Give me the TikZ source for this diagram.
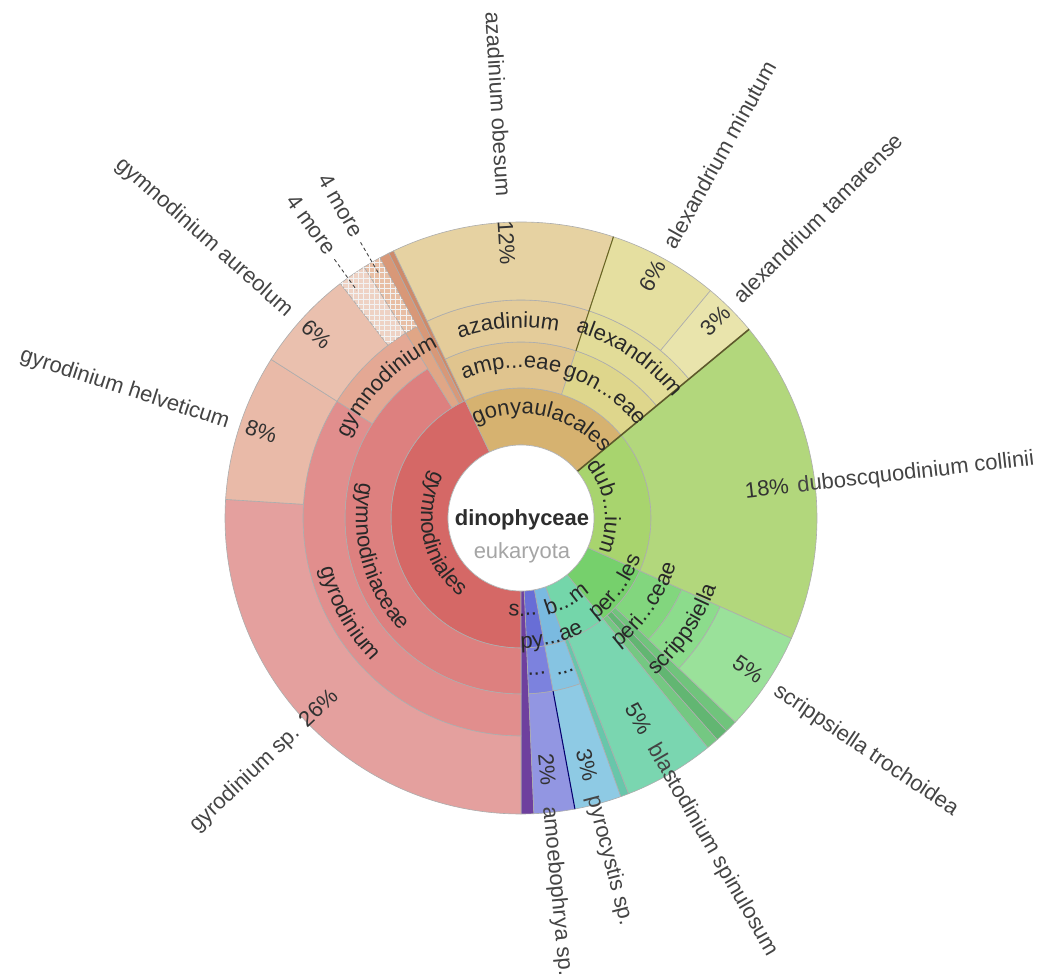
\documentclass[tikz,border=0pt]{standalone}
\usepackage{fontspec}
\setmainfont{Liberation Sans}
\usetikzlibrary{decorations.text, patterns}

%% order / family / genus / species colours
\definecolor{cGymnales}{RGB}{213, 104, 102}
\definecolor{cGymaceae}{RGB}{221, 128, 127}
\definecolor{cGyr}{RGB}{225, 142, 141}
\definecolor{cGyrSp}{RGB}{228, 160, 158}
\definecolor{cGyrHel}{RGB}{233, 186, 168}
\definecolor{cGym}{RGB}{228, 168, 148}
\definecolor{cGymAur}{RGB}{234, 192, 174}
\definecolor{cGymMore}{RGB}{238, 210, 196}
\definecolor{cOrA}{RGB}{224, 166, 134}
\definecolor{cOrAMore}{RGB}{232, 190, 164}
\definecolor{cOrB}{RGB}{216, 152, 120}
\definecolor{cOrC}{RGB}{206, 138, 106}
\definecolor{cGonyales}{RGB}{214, 178, 112}
\definecolor{cAmph}{RGB}{224, 196, 142}
\definecolor{cAzad}{RGB}{228, 204, 154}
\definecolor{cAzOb}{RGB}{230, 210, 162}
\definecolor{cGonaceae}{RGB}{222, 214, 140}
\definecolor{cAlex}{RGB}{226, 220, 152}
\definecolor{cAlexMin}{RGB}{229, 223, 160}
\definecolor{cAlexTam}{RGB}{233, 228, 172}
\definecolor{cDub}{RGB}{168, 212, 110}
\definecolor{cDubCol}{RGB}{178, 215, 124}
\definecolor{cPerales}{RGB}{118, 208, 108}
\definecolor{cPeraceae}{RGB}{130, 214, 126}
\definecolor{cScrip}{RGB}{140, 220, 140}
\definecolor{cScripTro}{RGB}{154, 225, 154}
\definecolor{cStripA}{RGB}{112, 196, 124}
\definecolor{cStripB}{RGB}{98, 182, 114}
\definecolor{cStripC}{RGB}{116, 200, 130}
\definecolor{cBlast}{RGB}{116, 214, 170}
\definecolor{cBlastSp}{RGB}{122, 214, 176}
\definecolor{cTealThin}{RGB}{104, 198, 170}
\definecolor{cPyro}{RGB}{122, 186, 224}
\definecolor{cPyroB}{RGB}{134, 196, 226}
\definecolor{cPyroSp}{RGB}{142, 202, 228}
\definecolor{cSyn}{RGB}{104, 110, 214}
\definecolor{cSynB}{RGB}{124, 130, 222}
\definecolor{cAmoeb}{RGB}{146, 150, 226}
\definecolor{cDark}{RGB}{110, 64, 158}
\definecolor{ringtext}{RGB}{40, 40, 40}
\definecolor{leaftext}{RGB}{68, 68, 68}
\definecolor{pcttext}{RGB}{50, 50, 50}
\definecolor{roottext}{RGB}{45, 45, 45}
\definecolor{parenttext}{RGB}{165, 165, 165}

\newcommand{\ringfont}{\fontsize{12.5pt}{15pt}\selectfont}

%% annular sector: start angle, end angle, inner radius, outer radius, colour
\newcommand{\kwedge}[5]{%
  \filldraw[wedge, fill=#5] (#1:#3) arc[start angle=#1, end angle=#2, radius=#3]
    -- (#2:#4) arc[start angle=#2, end angle=#1, radius=#4] -- cycle;}
\newcommand{\khatch}[4]{%
  \fill[pattern=grid, pattern color=black!5] (#1:#3) arc[start angle=#1, end angle=#2, radius=#3]
    -- (#2:#4) arc[start angle=#2, end angle=#1, radius=#4] -- cycle;}
%% curved ring labels: centre angle, baseline radius, text
\newcommand{\toplabel}[3]{%
  \path[decorate, decoration={text along path, text={|\ringfont|#3},
    text align=center, text color=ringtext}]
    ({#1+70}:#2) arc[start angle={#1+70}, end angle={#1-70}, radius=#2];}
\newcommand{\botlabel}[3]{%
  \path[decorate, decoration={text along path, text={|\ringfont|#3},
    text align=center, text color=ringtext}]
    ({#1-70}:#2) arc[start angle={#1-70}, end angle={#1+70}, radius=#2];}

\begin{document}
\fontsize{12.5pt}{15pt}\selectfont
\begin{tikzpicture}[
    x=0.02cm, y=0.02cm,
    wedge/.style={draw=black!32, line width=0.35pt},
    sepline/.style={line width=0.9pt},
    leaf/.style={text=leaftext, inner sep=0pt, text height=9pt, text depth=2.5pt},
    pct/.style={text=pcttext, inner sep=0pt, text height=9pt, text depth=2.5pt},
    moreline/.style={draw=black!75, dash pattern=on 2pt off 1.6pt, line width=0.5pt,
                     shorten <=4pt}
]
\useasboundingbox (-521,-461) rectangle (525,518);

%% Ring 1 (orders)
\kwedge{115.5}{270}{73}{130}{cGymnales}
\kwedge{39.6}{115.5}{73}{130}{cGonyales}
\kwedge{-24}{39.6}{73}{130}{cDub}
\kwedge{-50.9}{-24}{73}{130}{cPerales}
\kwedge{-70.3}{-50.9}{73}{130}{cBlast}
\kwedge{-79.5}{-70.3}{73}{130}{cPyro}
\kwedge{-87.5}{-79.5}{73}{130}{cSyn}
\kwedge{-90}{-87.5}{73}{296}{cDark}

%% Ring 2 (families)
\kwedge{122}{270}{130}{176}{cGymaceae}
\kwedge{118.5}{122}{130}{218}{cOrA}
\kwedge{116.5}{118.5}{130}{296}{cOrB}
\kwedge{115.5}{116.5}{130}{296}{cOrC}
\kwedge{71.8}{115.5}{130}{176}{cAmph}
\kwedge{39.6}{71.8}{130}{176}{cGonaceae}
\kwedge{-24}{39.6}{130}{296}{cDubCol}
\kwedge{-43.6}{-24}{130}{176}{cPeraceae}
\kwedge{-46}{-43.6}{130}{296}{cStripA}
\kwedge{-48.5}{-46}{130}{296}{cStripB}
\kwedge{-50.9}{-48.5}{130}{296}{cStripC}
\kwedge{-68.7}{-50.9}{130}{296}{cBlastSp}
\kwedge{-70.3}{-68.7}{130}{296}{cTealThin}
\kwedge{-79.5}{-70.3}{130}{176}{cPyroB}
\kwedge{-87.5}{-79.5}{130}{176}{cSynB}

%% Ring 3 (genera)
\kwedge{147.6}{270}{176}{218}{cGyr}
\kwedge{122}{147.6}{176}{218}{cGym}
\kwedge{71.8}{115.5}{176}{218}{cAzad}
\kwedge{39.6}{71.8}{176}{218}{cAlex}
\kwedge{-43.6}{-24}{176}{218}{cScrip}
\kwedge{-79.5}{-70.3}{176}{296}{cPyroSp}
\kwedge{-87.5}{-79.5}{176}{296}{cAmoeb}

%% Ring 4 (species)
\kwedge{176.4}{270}{218}{296}{cGyrSp}
\kwedge{147.6}{176.4}{218}{296}{cGyrHel}
\kwedge{127.6}{147.6}{218}{296}{cGymAur}
\kwedge{122}{127.6}{218}{296}{cGymMore}
\khatch{122}{127.6}{218}{296}
\kwedge{118.5}{122}{218}{296}{cOrAMore}
\khatch{118.5}{122}{218}{296}
\kwedge{71.8}{115.5}{218}{296}{cAzOb}
\kwedge{50.2}{71.8}{218}{296}{cAlexMin}
\kwedge{39.6}{50.2}{218}{296}{cAlexTam}
\kwedge{-43.6}{-24}{218}{296}{cScripTro}

%% darker separations
\draw[sepline, draw=black!45!olive] (39.6:73) -- (39.6:296);
\draw[sepline, draw=black!30!olive, line width=0.6pt] (71.8:176) -- (71.8:296);
\draw[sepline, draw=black!55!blue, line width=0.6pt] (-79.5:176) -- (-79.5:296);

%% Centre
\filldraw[fill=white, draw=black!30, line width=0.35pt] (0,0) circle[radius=73];
\node[font=\bfseries, text=roottext] (root) at (1,-2) {dinophyceae};
\node[text=parenttext] (parent) at (1,-35) {eukaryota};

%% Ring labels
\botlabel{192}{100}{gymnodiniales}
\botlabel{195.5}{165}{gymnodiniaceae}
\botlabel{209}{207}{gyrodinium}
\toplabel{135.5}{190}{gymnodinium}
\toplabel{77.3}{104}{gonyaulacales}
\toplabel{93.7}{150}{amp...eae}
\toplabel{93.8}{190}{azadinium}
\toplabel{56}{148}{gon...eae}
\toplabel{56}{194}{alexandrium}
\toplabel{7.8}{84}{dub...ium}
\botlabel{-36}{126}{per...les}
\botlabel{-35}{162}{peri...ceae}
\botlabel{-34.5}{207}{scrippsiella}
\botlabel{-89}{98}{s...}
\botlabel{-61}{101}{b...m}
\botlabel{-75.5}{130}{py...ae}
\botlabel{-84.2}{158}{...}
\botlabel{-73.9}{162}{...}

%% Leaf labels, left half
\node[leaf, anchor=east, rotate=43.5] (lbl-gyrsp) at (223.5:308) {gyrodinium sp.};
\node[pct, anchor=west, rotate=43.5] (pct-gyrsp) at (223.5:300) {26\%};
\node[leaf, anchor=east, rotate=-18] (lbl-gyrhel) at (162:307) {gyrodinium helveticum};
\node[pct, anchor=west, rotate=-18] (pct-gyrhel) at (162:290) {8\%};
\node[leaf, anchor=east, rotate=-41.5] (lbl-gymaur) at (138.5:309) {gymnodinium aureolum};
\node[pct, anchor=west, rotate=-41.5] (pct-gymaur) at (138.5:291) {6\%};
\node[leaf, anchor=east, rotate=-86.6] (lbl-azob) at (93.4:322) {azadinium obesum};
\node[pct, anchor=west, rotate=-86.6] (pct-azob) at (93.4:298) {12\%};

%% Collapsed slices
\node[leaf, anchor=east, rotate=-54.2] (more-a) at (125.8:326) {4 more};
\coordinate (more-a-tip) at (125.8:281);
\node[leaf, anchor=east, rotate=-59.8] (more-b) at (120.2:326) {4 more};
\coordinate (more-b-tip) at (120.2:282);
\draw[moreline] (more-a) -- (more-a-tip);
\draw[moreline] (more-b) -- (more-b-tip);

%% Leaf labels, right half
\node[pct, anchor=east, rotate=61] (pct-alexmin) at (61:292) {6\%};
\node[leaf, anchor=west, rotate=61] (lbl-alexmin) at (61:309) {alexandrium minutum};
\node[pct, anchor=east, rotate=45] (pct-alextam) at (45:293) {3\%};
\node[leaf, anchor=west, rotate=45] (lbl-alextam) at (45:307) {alexandrium tamarense};
\node[pct, anchor=east, rotate=6.5] (pct-dubcol) at (6.5:270) {18\%};
\node[leaf, anchor=west, rotate=6.5] (lbl-dubcol) at (6.5:278) {duboscquodinium collinii};
\node[pct, anchor=east, rotate=-34] (pct-scrtro) at (-34:289) {5\%};
\node[leaf, anchor=west, rotate=-34] (lbl-scrtro) at (-34:307) {scrippsiella trochoidea};
\node[pct, anchor=east, rotate=-60] (pct-blasp) at (-60:249) {5\%};
\node[leaf, anchor=west, rotate=-60] (lbl-blasp) at (-60:263) {blastodinium spinulosum};
\node[pct, anchor=east, rotate=-75.5] (pct-pyrsp) at (-75.5:272) {3\%};
\node[leaf, anchor=west, rotate=-75.5] (lbl-pyrsp) at (-75.5:287) {pyrocystis sp.};
\node[pct, anchor=east, rotate=-84.5] (pct-amosp) at (-84.5:269) {2\%};
\node[leaf, anchor=west, rotate=-84.5] (lbl-amosp) at (-84.5:290) {amoebophrya sp.};

\end{tikzpicture}
\end{document}
